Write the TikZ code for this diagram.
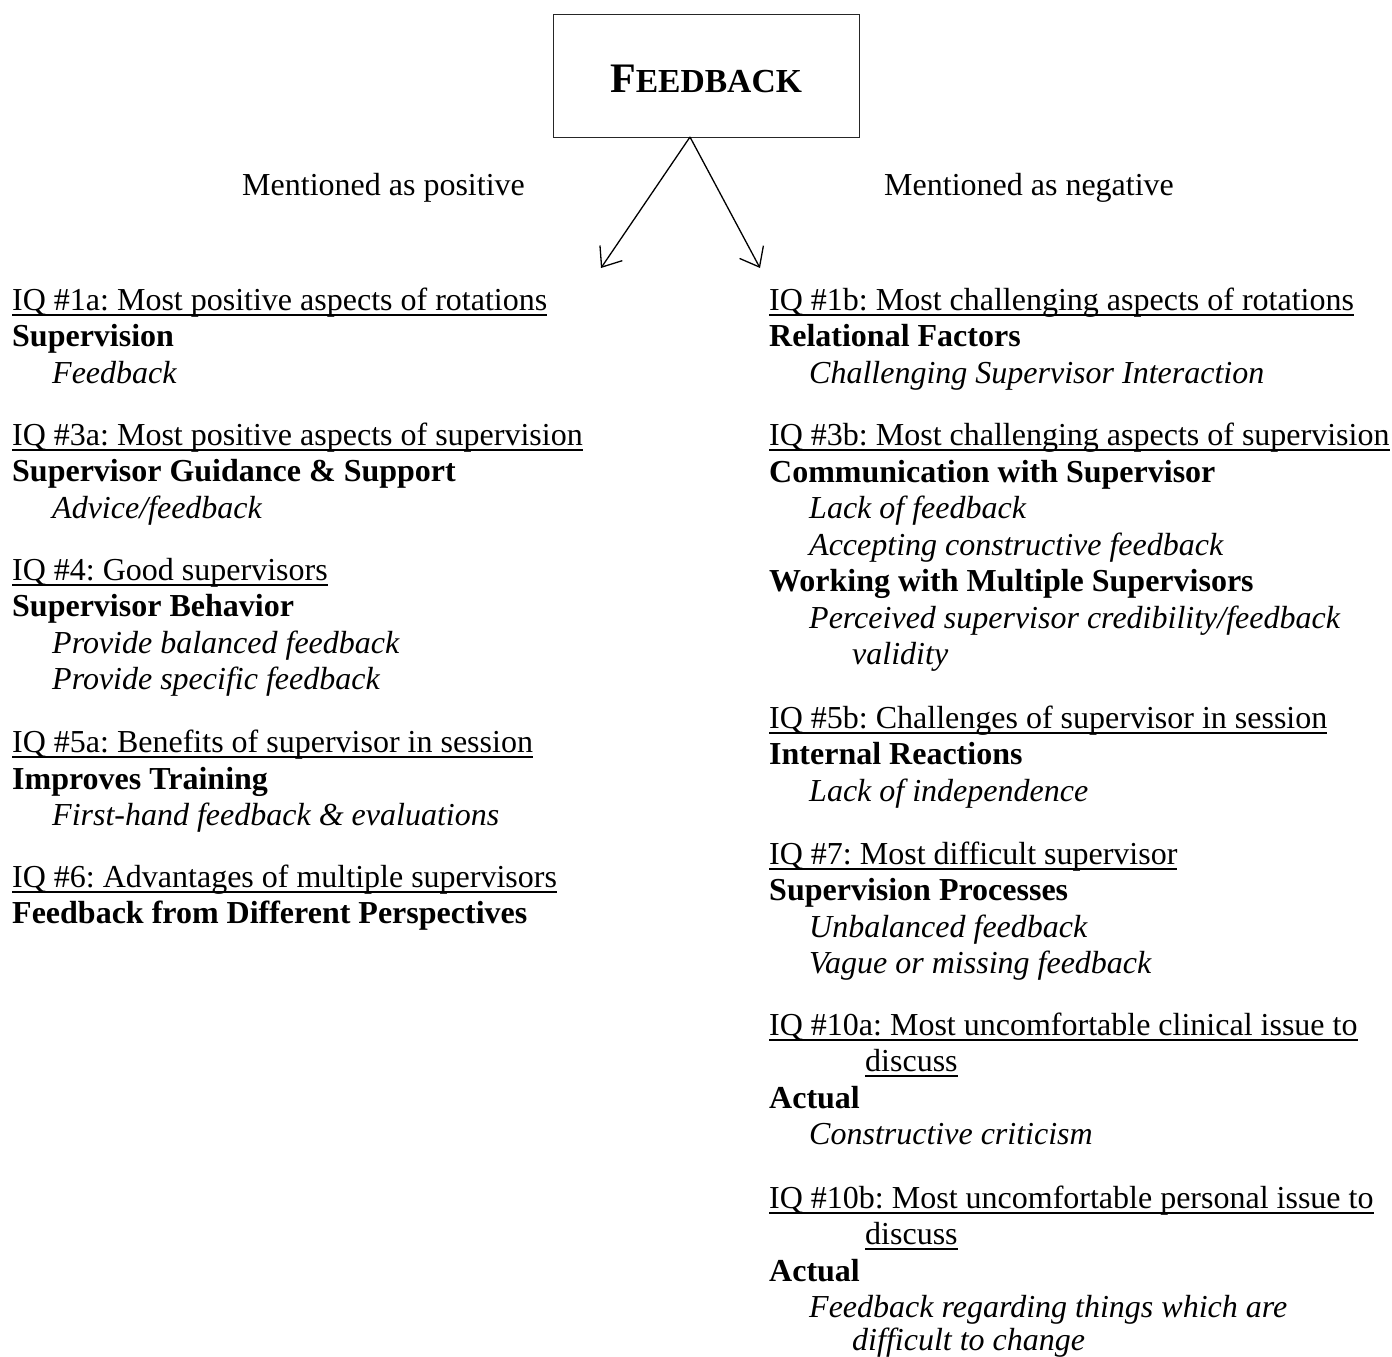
\documentclass[tikz,border=0pt]{standalone}
\usepackage{fontspec}
\setmainfont{Liberation Serif}
\usetikzlibrary{arrows.meta}
\frenchspacing
\newsavebox\ulinebox
\newcommand\ulq[1]{\sbox\ulinebox{#1}\rlap{\rule[-5.6pt]{\wd\ulinebox}{1.9pt}}\usebox\ulinebox}
\begin{document}
\begin{tikzpicture}[x=1pt,y=-1pt,
  txt/.style={anchor=base west,inner sep=0pt,yshift=-2pt,font=\fontsize{32}{36.5}\selectfont\frenchspacing},
  iq/.style={txt},
  cat/.style={txt,font=\fontsize{32}{36.5}\selectfont\bfseries\frenchspacing},
  sub/.style={txt,font=\fontsize{32}{36.5}\selectfont\itshape\frenchspacing},
  box/.style={draw=black!85,line width=1pt,minimum width=306pt,minimum height=123pt,inner sep=0pt,text height=33pt,text depth=0pt},
  arr/.style={line width=1.3pt,-{Straight Barb[length=17pt,width=27pt,line width=1.3pt]}}]
\useasboundingbox (0,0) rectangle (1392,1357);
% central box
\node[box] (fb) at (706,75.5) {\bfseries{\fontsize{42}{44}\selectfont F}{\fontsize{33.6}{36}\selectfont EEDBACK}};
\coordinate (apex) at (690,137);
\coordinate (lt) at (601,268);
\coordinate (rt) at (760,268);
\draw[arr] (apex) -- (lt);
\draw[arr] (apex) -- (rt);
\node[txt] (pos) at (242,193) {Mentioned as positive};
\node[txt] (neg) at (884,193) {Mentioned as negative};
% left column
\node[iq]  (l1)  at (12,308)   {\ulq{IQ \#1a: Most positive aspects of rotations}};
\node[cat] (l2)  at (12,344.5) {Supervision};
\node[sub] (l3)  at (52,381)   {Feedback};
\node[iq]  (l4)  at (12,443)   {\ulq{IQ \#3a: Most positive aspects of supervision}};
\node[cat] (l5)  at (12,479.5) {Supervisor Guidance \& Support};
\node[sub] (l6)  at (52,516)   {Advice/feedback};
\node[iq]  (l7)  at (12,578)   {\ulq{IQ \#4: Good supervisors}};
\node[cat] (l8)  at (12,614.5) {Supervisor Behavior};
\node[sub] (l9)  at (52,651)   {Provide balanced feedback};
\node[sub] (l10) at (52,687.5) {Provide specific feedback};
\node[iq]  (l11) at (12,750.5) {\ulq{IQ \#5a: Benefits of supervisor in session}};
\node[cat] (l12) at (12,787)   {Improves Training};
\node[sub] (l13) at (52,823.5) {First-hand feedback \& evaluations};
\node[iq]  (l14) at (12,885)   {\ulq{IQ \#6: Advantages of multiple supervisors}};
\node[cat] (l15) at (12,921.5) {Feedback from Different Perspectives};
% right column
\node[iq]  (r1)  at (769,308)    {\ulq{IQ \#1b: Most challenging aspects of rotations}};
\node[cat] (r2)  at (769,344.5)  {Relational Factors};
\node[sub] (r3)  at (809,381)    {Challenging Supervisor Interaction};
\node[iq]  (r4)  at (769,443.5)  {\ulq{IQ \#3b: Most challenging aspects of supervision}};
\node[cat] (r5)  at (769,480)    {Communication with Supervisor};
\node[sub] (r6)  at (809,516.5)  {Lack of feedback};
\node[sub] (r7)  at (809,553)    {Accepting constructive feedback};
\node[cat] (r8)  at (769,589.5)  {Working with Multiple Supervisors};
\node[sub] (r9)  at (809,626)    {Perceived supervisor credibility/feedback};
\node[sub] (r10) at (852,662.5)  {validity};
\node[iq]  (r11) at (769,726)    {\ulq{IQ \#5b: Challenges of supervisor in session}};
\node[cat] (r12) at (769,762.5)  {Internal Reactions};
\node[sub] (r13) at (809,799)    {Lack of independence};
\node[iq]  (r14) at (769,862)    {\ulq{IQ \#7: Most difficult supervisor}};
\node[cat] (r15) at (769,898.5)  {Supervision Processes};
\node[sub] (r16) at (809,935)    {Unbalanced feedback};
\node[sub] (r17) at (809,971.5)  {Vague or missing feedback};
\node[iq]  (r18) at (769,1033)   {\ulq{IQ \#10a: Most uncomfortable clinical issue to}};
\node[iq]  (r19) at (865,1069.5) {\ulq{discuss}};
\node[cat] (r20) at (769,1106)   {Actual};
\node[sub] (r21) at (809,1142.5) {Constructive criticism};
\node[iq]  (r22) at (769,1206)   {\ulq{IQ \#10b: Most uncomfortable personal issue to}};
\node[iq]  (r23) at (865,1242.5) {\ulq{discuss}};
\node[cat] (r24) at (769,1279)   {Actual};
\node[sub] (r25) at (809,1315.5) {Feedback regarding things which are};
\node[sub,yshift=2pt] (r26) at (852,1350)   {difficult to change};
\end{tikzpicture}
\end{document}
